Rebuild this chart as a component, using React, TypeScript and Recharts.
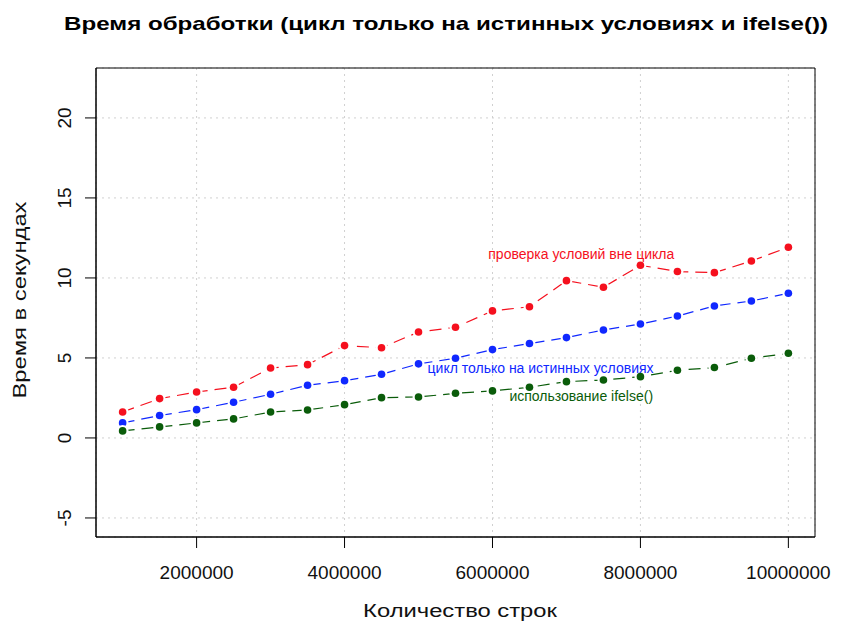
import {
  LineChart,
  Line,
  XAxis,
  YAxis,
  CartesianGrid,
  ReferenceArea,
  ReferenceDot,
} from 'recharts';

// number of rows processed
const rowCounts = [
  1000000, 1500000, 2000000, 2500000, 3000000, 3500000, 4000000, 4500000, 5000000, 5500000,
  6000000, 6500000, 7000000, 7500000, 8000000, 8500000, 9000000, 9500000, 10000000,
];

// seconds
const outsideLoop = [
  1.62, 2.46, 2.87, 3.17, 4.37, 4.58, 5.77, 5.64, 6.62, 6.92,
  7.94, 8.2, 9.83, 9.42, 10.79, 10.4, 10.33, 11.06, 11.92,
];
const trueOnlyLoop = [
  0.94, 1.4, 1.77, 2.23, 2.73, 3.29, 3.58, 3.98, 4.63, 4.98,
  5.52, 5.9, 6.27, 6.75, 7.12, 7.62, 8.25, 8.56, 9.04,
];
const ifelseTimes = [
  0.44, 0.69, 0.94, 1.19, 1.62, 1.75, 2.08, 2.52, 2.56, 2.79,
  2.94, 3.17, 3.52, 3.62, 3.83, 4.23, 4.4, 4.98, 5.29,
];

const xTicks = [2000000, 4000000, 6000000, 8000000, 10000000];
const yTicks = [-5, 0, 5, 10, 15, 20];
const xDomain = [640000, 10360000];
const yDomain = [-6.19, 23.12];

const FONT = '"Liberation Sans", Arial, sans-serif';
const RED = '#f5101e';
const BLUE = '#1028ff';
const GREEN = '#0a5c0a';

const data = rowCounts.map((n, i) => ({
  rows: n,
  outside: outsideLoop[i],
  trueOnly: trueOnlyLoop[i],
  ifelse: ifelseTimes[i],
}));

// R type="b": a little gap round each point
const makeDot = (color: string) => (props: any) => {
  const { cx, cy, index } = props;
  if (cx == null || cy == null) return <g key={index} />;
  return (
    <g key={index}>
      <circle cx={cx} cy={cy} r={6} fill="#fff" />
      <circle cx={cx} cy={cy} r={3.8} fill={color} />
    </g>
  );
};

const YTick = (props: any) => {
  const { x, y, payload } = props;
  return (
    <text
      transform={`translate(${x - 12},${y}) rotate(-90)`}
      textAnchor="middle"
      fontSize={19}
      fontFamily={FONT}
      fill="#111"
    >
      {payload.value}
    </text>
  );
};

export default function App() {
  return (
    <div style={{ position: 'relative', width: 854, height: 640, margin: -8, background: '#fff', fontFamily: FONT }}>
      <div
        style={{
          position: 'absolute',
          top: 13,
          left: 446,
          transform: 'translateX(-50%) scaleX(1.27)',
          whiteSpace: 'nowrap',
          lineHeight: 'normal',
          fontSize: 19,
          fontWeight: 'bold',
          color: '#000',
        }}
      >
        Время обработки (цикл только на истинных условиях и ifelse())
      </div>
      <div
        style={{
          position: 'absolute',
          top: 601,
          left: 460,
          transform: 'translateX(-50%) scaleX(1.32)',
          whiteSpace: 'nowrap',
          lineHeight: 'normal',
          fontSize: 18,
          color: '#111',
        }}
      >
        Количество строк
      </div>
      <div
        style={{
          position: 'absolute',
          top: 300,
          left: 20,
          transform: 'translate(-50%, -50%) rotate(-90deg) scaleX(1.32)',
          whiteSpace: 'nowrap',
          lineHeight: 'normal',
          fontSize: 18,
          color: '#111',
        }}
      >
        Время в секундах
      </div>
      <LineChart
        width={854}
        height={640}
        data={data}
        margin={{ top: 68, right: 39, left: 36, bottom: 53 }}
      >
        <CartesianGrid stroke="#d0d0d0" strokeDasharray="2 4" />
        <XAxis
          dataKey="rows"
          type="number"
          domain={xDomain}
          ticks={xTicks}
          allowDataOverflow
          height={50}
          tickSize={11}
          tickMargin={18}
          stroke="#000"
          tick={{ fontSize: 19, fontFamily: FONT, fill: '#111' }}
        />
        <YAxis
          type="number"
          domain={yDomain}
          ticks={yTicks}
          allowDataOverflow
          width={60}
          tickSize={11}
          tickMargin={2}
          stroke="#000"
          tick={<YTick />}
        />
        <ReferenceArea
          x1={xDomain[0]}
          x2={xDomain[1]}
          y1={yDomain[0]}
          y2={yDomain[1]}
          fill="none"
          stroke="#000"
          strokeWidth={1}
        />
        <Line
          dataKey="outside"
          stroke={RED}
          strokeWidth={1.2}
          strokeDasharray="12 7"
          dot={makeDot(RED)}
          activeDot={false}
          isAnimationActive={false}
        />
        <Line
          dataKey="trueOnly"
          stroke={BLUE}
          strokeWidth={1.2}
          strokeDasharray="12 7"
          dot={makeDot(BLUE)}
          activeDot={false}
          isAnimationActive={false}
        />
        <Line
          dataKey="ifelse"
          stroke={GREEN}
          strokeWidth={1.2}
          strokeDasharray="12 7"
          dot={makeDot(GREEN)}
          activeDot={false}
          isAnimationActive={false}
        />
        <ReferenceDot
          x={7200000}
          y={11.48}
          r={0}
          fill="none"
          stroke="none"
          label={{ value: 'проверка условий вне цикла', position: 'center', fill: RED, fontSize: 14, fontFamily: FONT }}
        />
        <ReferenceDot
          x={6650000}
          y={4.36}
          r={0}
          fill="none"
          stroke="none"
          label={{ value: 'цикл только на истинных условиях', position: 'center', fill: BLUE, fontSize: 14, fontFamily: FONT }}
        />
        <ReferenceDot
          x={7200000}
          y={2.59}
          r={0}
          fill="none"
          stroke="none"
          label={{ value: 'использование ifelse()', position: 'center', fill: GREEN, fontSize: 14, fontFamily: FONT }}
        />
      </LineChart>
    </div>
  );
}
